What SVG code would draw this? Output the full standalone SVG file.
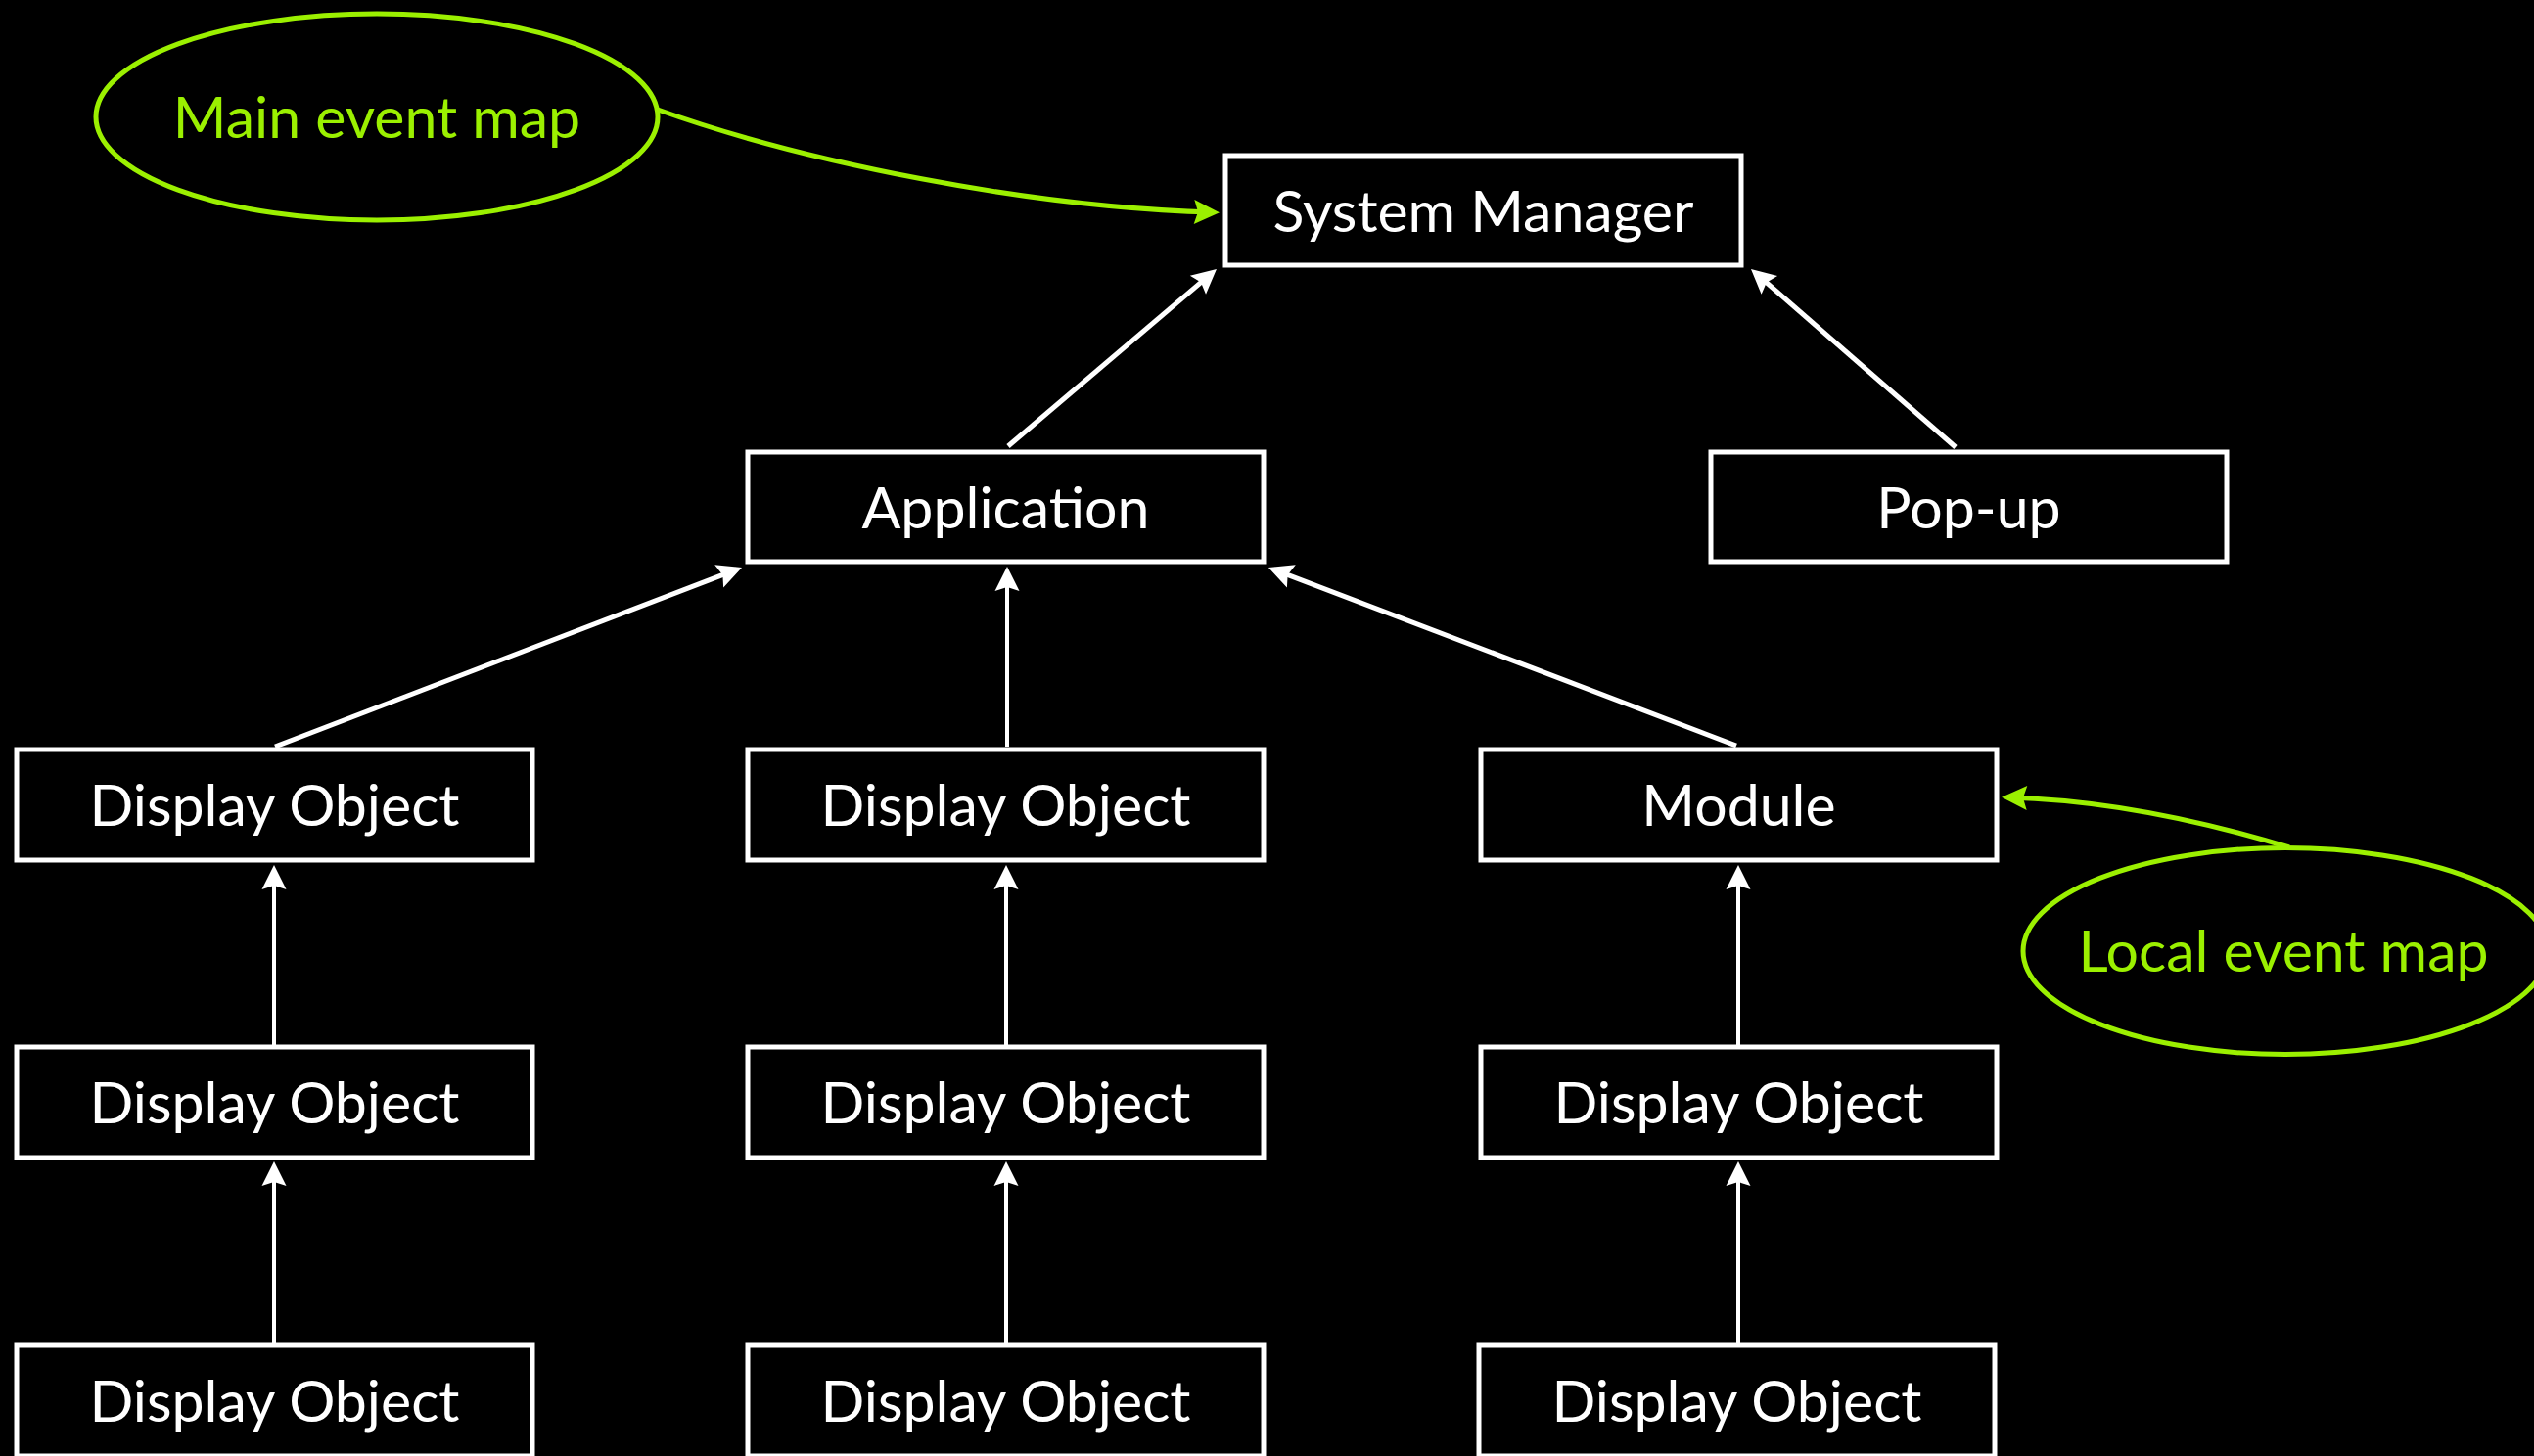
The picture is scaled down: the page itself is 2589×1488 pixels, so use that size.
<svg xmlns="http://www.w3.org/2000/svg" width="2589" height="1488" viewBox="0 0 2589 1488">
  <style>
    .box { fill: #000; stroke: #fff; stroke-width: 5; }
    .label { font-family: Lato, "Open Sans", "Liberation Sans", sans-serif; font-size: 59px; fill: #fff; text-anchor: middle; }
    .note { fill: none; stroke: #9BF000; stroke-width: 5; }
    .note-label { font-family: Lato, "Open Sans", "Liberation Sans", sans-serif; font-size: 59px; fill: #9BF000; text-anchor: middle; }
    .link { fill: none; stroke: #fff; stroke-width: 4; }
    .link.diag { stroke-width: 5; }
    .note-link { fill: none; stroke: #9BF000; stroke-width: 5; }
  </style>
  <defs>
    <marker id="arrow-white" markerUnits="userSpaceOnUse" viewBox="-22 -14 30 28" refX="0" refY="0" markerWidth="30" markerHeight="28" orient="auto">
      <path d="M6,0 L-19,-12.5 L-15,0 L-19,12.5 Z" fill="#fff"/>
    </marker>
    <marker id="arrow-lime" markerUnits="userSpaceOnUse" viewBox="-24 -14 32 28" refX="0" refY="0" markerWidth="32" markerHeight="28" orient="auto">
      <path d="M6,0 L-20,-12.5 L-16,0 L-20,12.5 Z" fill="#9BF000"/>
    </marker>
  </defs>

  <rect x="0" y="0" width="2589" height="1488" fill="#000"/>

  <!-- connectors -->
  <g id="connectors">
    <path class="link diag" d="M1030,456 L1238.4,278.9" marker-end="url(#arrow-white)"/>
    <path class="link diag" d="M1998,457 L1793.5,278.9" marker-end="url(#arrow-white)"/>
    <path class="link diag" d="M281,763 L752.4,582.1" marker-end="url(#arrow-white)"/>
    <path class="link" d="M1029,763 L1029,585" marker-end="url(#arrow-white)"/>
    <path class="link diag" d="M1774,762 L1301.6,582.1" marker-end="url(#arrow-white)"/>
    <path class="link" d="M280,1068 L280,890" marker-end="url(#arrow-white)"/>
    <path class="link" d="M280,1373 L280,1193" marker-end="url(#arrow-white)"/>
    <path class="link" d="M1028,1068 L1028,890" marker-end="url(#arrow-white)"/>
    <path class="link" d="M1028,1373 L1028,1193" marker-end="url(#arrow-white)"/>
    <path class="link" d="M1776,1068 L1776,890" marker-end="url(#arrow-white)"/>
    <path class="link" d="M1776,1373 L1776,1193" marker-end="url(#arrow-white)"/>
    <path class="note-link" d="M672,112 C820,165 1050,212 1240,217" marker-end="url(#arrow-lime)"/>
    <path class="note-link" d="M2339,866 C2280,848 2170,818 2051,815" marker-end="url(#arrow-lime)"/>
  </g>

  <!-- annotations -->
  <g id="main-event-map">
    <ellipse class="note" cx="385" cy="119.5" rx="287" ry="105.5"/>
    <text class="note-label" x="385" y="141">Main event map</text>
  </g>
  <g id="local-event-map">
    <ellipse class="note" cx="2335" cy="972" rx="268" ry="105.5"/>
    <text class="note-label" x="2333" y="993">Local event map</text>
  </g>

  <!-- nodes -->
  <g id="system-manager">
    <rect class="box" x="1252" y="159" width="527" height="112"/>
    <text class="label" x="1515.5" y="237">System Manager</text>
  </g>
  <g id="application">
    <rect class="box" x="764" y="462" width="527" height="112"/>
    <text class="label" x="1027.5" y="540">Application</text>
  </g>
  <g id="popup">
    <rect class="box" x="1748" y="462" width="527" height="112"/>
    <text class="label" x="2011.5" y="540">Pop-up</text>
  </g>

  <g id="display-object-1-1">
    <rect class="box" x="17" y="766" width="527" height="113"/>
    <text class="label" x="280.5" y="844">Display Object</text>
  </g>
  <g id="display-object-2-1">
    <rect class="box" x="764" y="766" width="527" height="113"/>
    <text class="label" x="1027.5" y="844">Display Object</text>
  </g>
  <g id="module">
    <rect class="box" x="1513" y="766" width="527" height="113"/>
    <text class="label" x="1776.5" y="844">Module</text>
  </g>

  <g id="display-object-1-2">
    <rect class="box" x="17" y="1070" width="527" height="113"/>
    <text class="label" x="280.5" y="1148">Display Object</text>
  </g>
  <g id="display-object-2-2">
    <rect class="box" x="764" y="1070" width="527" height="113"/>
    <text class="label" x="1027.5" y="1148">Display Object</text>
  </g>
  <g id="display-object-3-2">
    <rect class="box" x="1513" y="1070" width="527" height="113"/>
    <text class="label" x="1776.5" y="1148">Display Object</text>
  </g>

  <g id="display-object-1-3">
    <rect class="box" x="17" y="1375" width="527" height="113"/>
    <text class="label" x="280.5" y="1453">Display Object</text>
  </g>
  <g id="display-object-2-3">
    <rect class="box" x="764" y="1375" width="527" height="113"/>
    <text class="label" x="1027.5" y="1453">Display Object</text>
  </g>
  <g id="display-object-3-3">
    <rect class="box" x="1511" y="1375" width="527" height="113"/>
    <text class="label" x="1774.5" y="1453">Display Object</text>
  </g>
</svg>
